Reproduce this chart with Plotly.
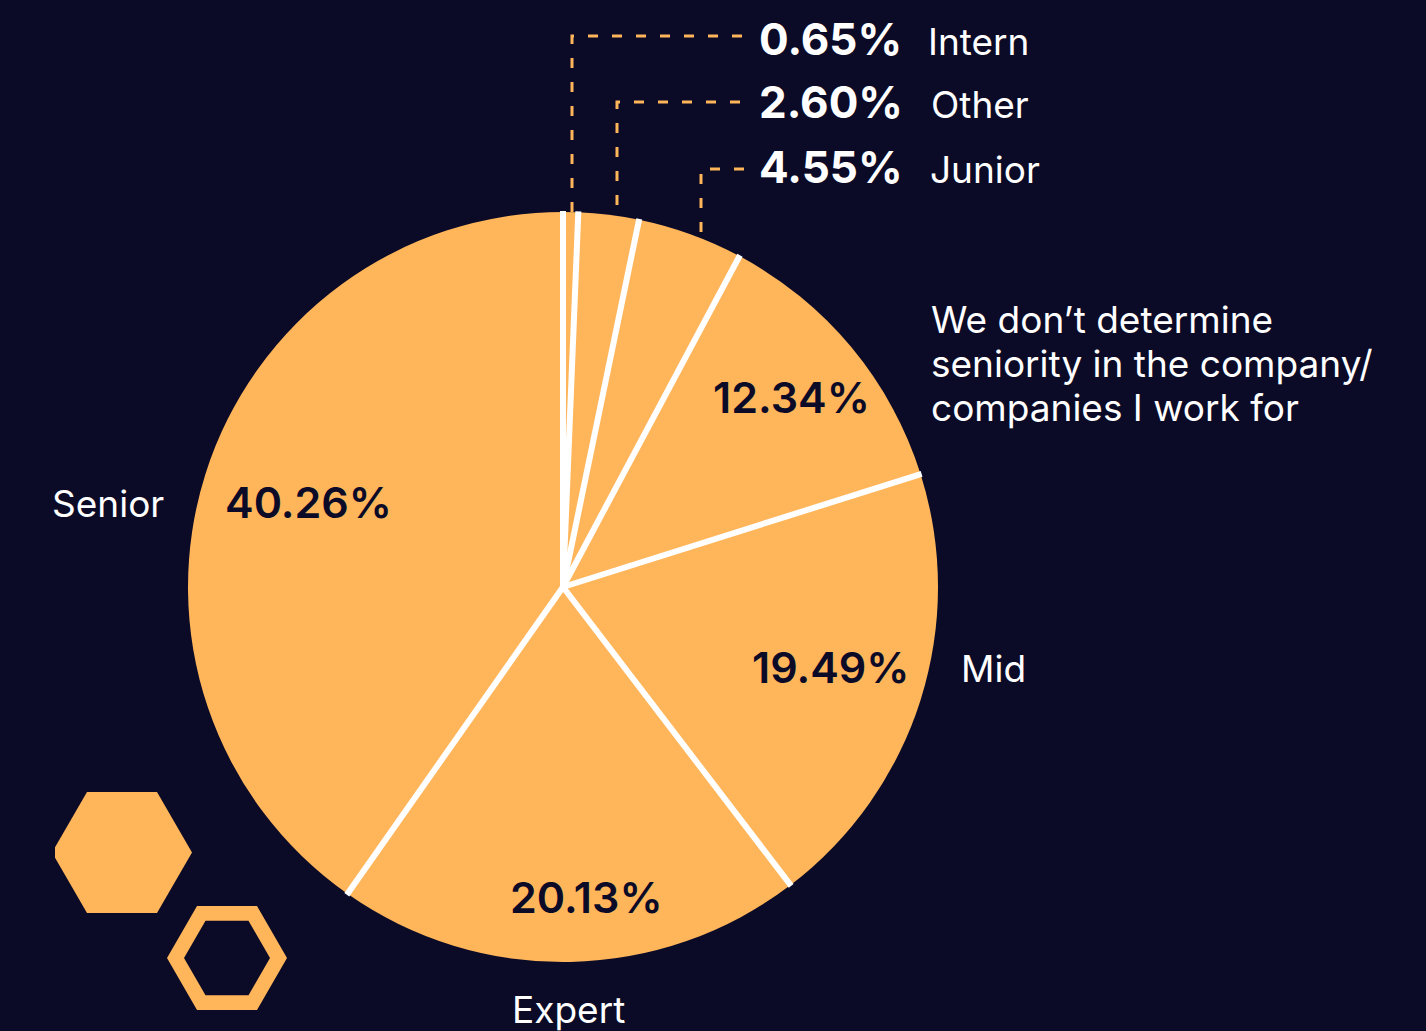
import math
import plotly.graph_objects as go

# Survey: seniority level of respondents (share of answers, %)
labels = ["Intern", "Other", "Junior",
          "We don’t determine<br>seniority in the company/<br>companies I work for",
          "Mid", "Expert", "Senior"]
values = [0.65, 2.60, 4.55, 12.34, 19.49, 20.13, 40.26]

W, H = 1426, 1031
BG = "#0b0b27"
ORANGE = "#ffb55a"
WHITE = "#ffffff"
FONT = "Inter"

# pie geometry in pixels
CX, CY, R = 563, 587, 375


def px(x):
    return x / W


def py(y):
    return 1 - y / H


def polar(frac, r):
    """Pixel point at fraction `frac` of the way round the pie (clockwise from 12 o'clock)."""
    a = 2 * math.pi * frac
    return CX + r * math.sin(a), CY - r * math.cos(a)


fig = go.Figure()
fig.add_trace(go.Pie(
    values=values,
    labels=labels,
    sort=False,
    direction="clockwise",
    rotation=0,
    marker=dict(colors=[ORANGE] * len(values), line=dict(width=0)),
    textinfo="none",
    hoverinfo="skip",
    showlegend=False,
    domain=dict(x=[px(CX - R), px(CX + R)], y=[py(CY + R), py(CY - R)]),
))

shapes = []
total = sum(values)

# white separators between slices
cum = 0.0
for v in values:
    x1, y1 = polar(cum / total, R + 1)
    shapes.append(dict(type="line", xref="paper", yref="paper",
                       x0=px(CX), y0=py(CY), x1=px(x1), y1=py(y1),
                       line=dict(color=WHITE, width=6)))
    cum += v

# dashed leader lines for the three thin slices: (x of vertical, y of bend, y of foot, x of end)
leaders = [(572, 36, 212, 748), (617, 102, 205, 745), (701, 169, 232, 745)]
for xv, ybend, yfoot, xend in leaders:
    path = f"M {px(xv)},{py(yfoot)} L {px(xv)},{py(ybend)} L {px(xend)},{py(ybend)}"
    shapes.append(dict(type="path", xref="paper", yref="paper", path=path,
                       line=dict(color=ORANGE, width=3, dash="10px,14px")))


def hexagon(cx, cy, r, reverse=False):
    pts = [(cx + r * math.cos(math.radians(a)), cy + r * math.sin(math.radians(a)))
           for a in range(0, 360, 60)]
    if reverse:
        pts = pts[::-1]
    return "M " + " L ".join(f"{px(x)},{py(y)}" for x, y in pts) + " Z"


# decorative hexagons, bottom left
shapes.append(dict(type="path", xref="paper", yref="paper",
                   path=hexagon(122, 852.5, 70), fillcolor=ORANGE,
                   line=dict(width=0), layer="below"))
shapes.append(dict(type="path", xref="paper", yref="paper",
                   path=hexagon(227, 958, 60) + " " + hexagon(227, 958, 43, reverse=True),
                   fillcolor=ORANGE, line=dict(width=0), layer="below"))
# trim the left tip of the filled hexagon
shapes.append(dict(type="rect", xref="paper", yref="paper",
                   x0=px(40), x1=px(55), y0=py(800), y1=py(905),
                   fillcolor=BG, line=dict(width=0), layer="below"))

annotations = []


def note(text, x, y_base, size, color, xanchor, weight="normal"):
    """Place text so that its baseline sits near pixel row y_base."""
    annotations.append(dict(
        text=text, xref="paper", yref="paper",
        x=px(x), y=py(y_base - 0.36 * size),
        xanchor=xanchor, yanchor="middle", showarrow=False, align="left",
        font=dict(family=FONT, size=size, color=color, weight=weight)))


pct = {lab: f"{v:.2f}%" for lab, v in zip(labels, values)}

LABEL_SIZE = 37

# outer value + label pairs for the thin slices
rows = [55, 118, 183]
label_x = [926, 929, 928]
for i, base in enumerate(rows):
    note(pct[labels[i]], 757, base, 44, WHITE, "left", weight="bold")
    note(labels[i], label_x[i], base, LABEL_SIZE, WHITE, "left")

# multi-line label, one line at a time for tighter spacing
for line, base in zip(labels[3].split("<br>"), [333, 377, 421]):
    note(line, 929, base, LABEL_SIZE, WHITE, "left")

# inner values
inner = [(3, 791, 412), (4, 831, 682), (5, 586, 912), (6, 308, 517)]
for i, x, base in inner:
    note(pct[labels[i]], x, base, 43, BG, "center", weight=600)

# outer labels for the large slices
note(labels[4], 959, 682, LABEL_SIZE, WHITE, "left")
note(labels[5], 568, 1023, LABEL_SIZE, WHITE, "center")
note(labels[6], 166, 517, LABEL_SIZE, WHITE, "right")

fig.update_layout(
    width=W, height=H,
    margin=dict(l=0, r=0, t=0, b=0),
    paper_bgcolor=BG, plot_bgcolor=BG,
    shapes=shapes, annotations=annotations,
)

fig.write_html("out.html")
